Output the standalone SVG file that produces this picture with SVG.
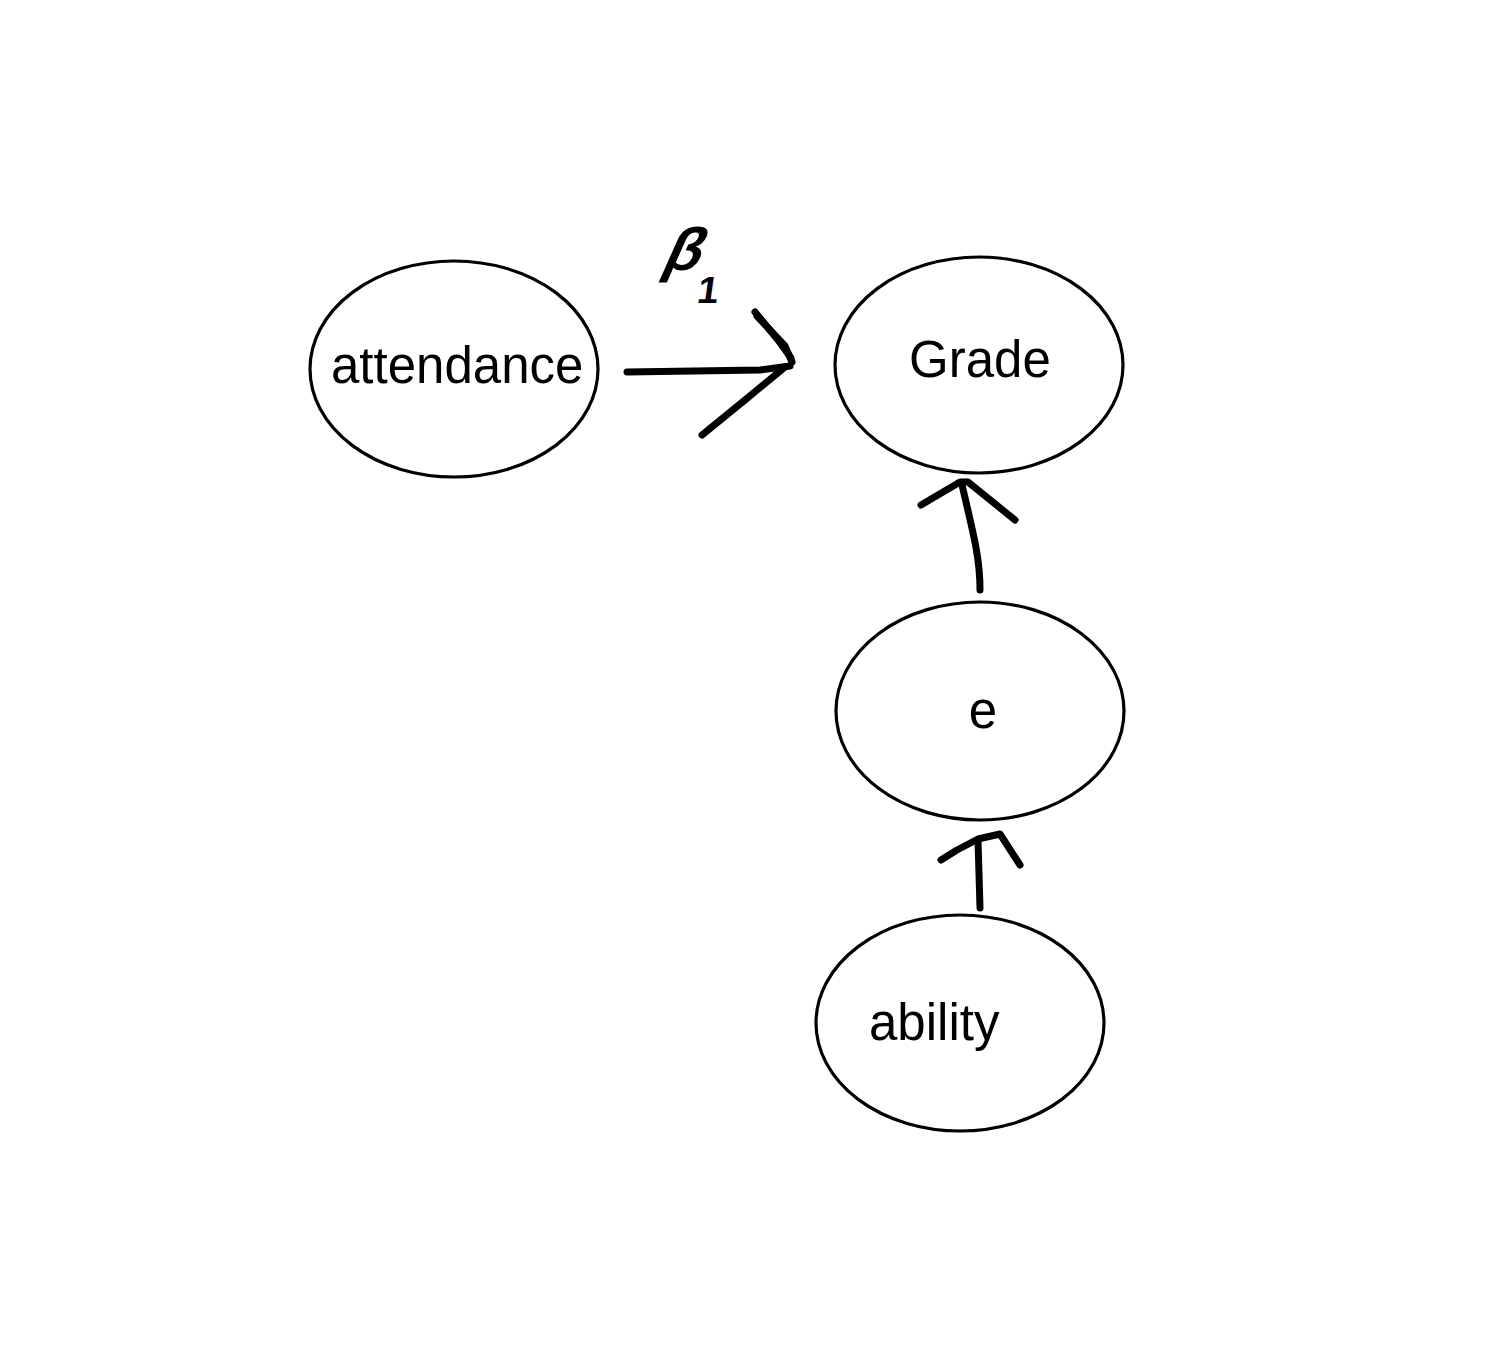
<svg xmlns="http://www.w3.org/2000/svg" width="1500" height="1360" viewBox="0 0 1500 1360">
  <style>
    .node ellipse { fill: #ffffff; stroke: #000000; stroke-width: 3.2; }
    .node text { font-family: "Liberation Sans", Arial, sans-serif; font-size: 51px; fill: #000000; }
    .pen { fill: none; stroke: #000000; stroke-width: 7; stroke-linecap: round; stroke-linejoin: round; }
    .label { font-family: "Liberation Sans", Arial, sans-serif; font-weight: bold; fill: #000000; }
  </style>
  <rect x="0" y="0" width="1500" height="1360" fill="#ffffff"/>

  <g id="attendance" class="node">
    <ellipse cx="454" cy="369" rx="144" ry="108"/>
    <text x="331" y="383">attendance</text>
  </g>

  <g id="grade" class="node">
    <ellipse cx="979" cy="365" rx="144" ry="108"/>
    <text x="909" y="377">Grade</text>
  </g>

  <g id="e" class="node">
    <ellipse cx="980" cy="711" rx="144" ry="109"/>
    <text x="983" y="728" text-anchor="middle">e</text>
  </g>

  <g id="ability" class="node">
    <ellipse cx="960" cy="1023" rx="144" ry="108"/>
    <text x="869" y="1040">ability</text>
  </g>

  <g id="connectors">
    <!-- attendance to Grade, hand drawn -->
    <path class="pen" d="M627 372 L760 370 L790 366"/>
    <path class="pen" d="M755 312 L778 340 L791 358"/>
    <path class="pen" d="M757 316 L785 346 L792 362" stroke-width="9"/>
    <path class="pen" d="M702 435 L745 400 L785 367"/>
    <!-- coefficient label beta 1 -->
    <text class="label" font-size="60" transform="translate(660 270) skewX(-24)">β</text>
    <text class="label" font-size="38" transform="translate(696 303) skewX(-8)">1</text>

    <!-- e to Grade -->
    <path class="pen" d="M980 590 C980 560 975 540 962 485"/>
    <path class="pen" d="M921 505 L960 482 L968 482 L1015 520"/>

    <!-- ability to e -->
    <path class="pen" d="M980 908 L978 840"/>
    <path class="pen" d="M941 860 L957 850 L978 839 L1000 834 L1020 865"/>
  </g>
</svg>
